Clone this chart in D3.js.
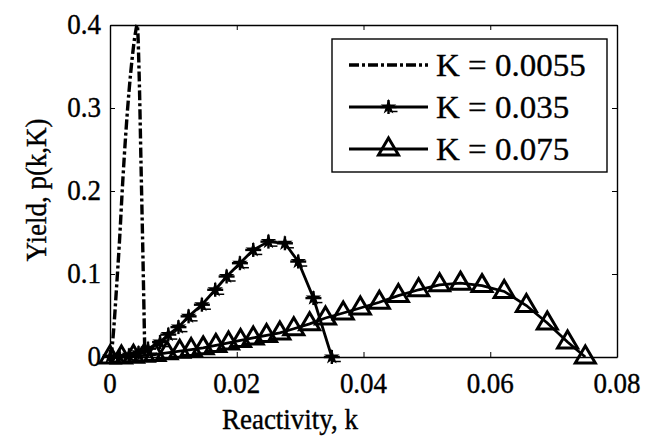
<!DOCTYPE html>
<html><head><meta charset="utf-8">
<script src="https://cdn.jsdelivr.net/npm/d3@7"></script>
<style>body{margin:0;background:#fff}svg{display:block}text{font-family:"Liberation Serif","Times New Roman",Times,"DejaVu Serif",serif;fill:#000;stroke:#000;stroke-width:0.35px}</style>
</head><body><svg id="c" width="649" height="438"></svg>
<script>
const xTicks = [0, 0.02, 0.04, 0.06, 0.08];
const yTicks = [0, 0.1, 0.2, 0.3, 0.4];
const xTickLabels = ["0", "0.02", "0.04", "0.06", "0.08"];
const yTickLabels = ["0", "0.1", "0.2", "0.3", "0.4"];
const seriesNames = ["K = 0.0055", "K = 0.035", "K = 0.075"];

const k1 = [0, 0.0003, 0.0006, 0.001, 0.0015, 0.002, 0.0025, 0.003, 0.0035, 0.004, 0.0043, 0.0046, 0.0049, 0.0052, 0.0055];
const p1 = [0, 0.01, 0.035, 0.08, 0.14, 0.21, 0.27, 0.32, 0.36, 0.39, 0.40, 0.34, 0.23, 0.12, 0];

const k2 = [0, 0.0015, 0.003, 0.0045, 0.006, 0.0079, 0.0092, 0.0108, 0.0124, 0.0145, 0.0166, 0.0184, 0.0205, 0.0226, 0.025, 0.0276, 0.0297, 0.0321, 0.035];
const p2 = [0, 0.0005, 0.002, 0.005, 0.010, 0.018, 0.027, 0.036, 0.049, 0.063, 0.081, 0.097, 0.113, 0.129, 0.139, 0.137, 0.115, 0.071, 0];

const k3 = [0, 0.0018, 0.0037, 0.0054, 0.0071, 0.009, 0.011, 0.0128, 0.0147, 0.0167, 0.0187, 0.0206, 0.0226, 0.0247, 0.0268, 0.029, 0.0315, 0.034, 0.0368, 0.0395, 0.0425, 0.0455, 0.0487, 0.052, 0.0553, 0.0587, 0.0622, 0.0657, 0.069, 0.0722, 0.075];
const p3 = [0, 0.000, 0.001, 0.002, 0.003, 0.005, 0.007, 0.009, 0.011, 0.014, 0.017, 0.020, 0.023, 0.026, 0.029, 0.034, 0.040, 0.047, 0.053, 0.059, 0.066, 0.074, 0.081, 0.087, 0.089, 0.086, 0.079, 0.062, 0.041, 0.018, 0];

const svg = d3.select("#c");
const L = 110, R = 617, T = 25, B = 357;
const x = d3.scaleLinear().domain([0, 0.08]).range([L, R]);
const y = d3.scaleLinear().domain([0, 0.4]).range([B, T]);
const FS = 27, SY = 1.13;

// axes box (ticks inward)
const gx = svg.append("g").attr("transform", `translate(0,${B})`)
  .call(d3.axisBottom(x).tickValues(xTicks).tickSizeInner(-5).tickSizeOuter(0).tickFormat(""));
const gy = svg.append("g").attr("transform", `translate(${L},0)`)
  .call(d3.axisLeft(y).tickValues(yTicks).tickSizeInner(-5).tickSizeOuter(0).tickFormat(""));
const gt = svg.append("g").attr("transform", `translate(0,${T})`)
  .call(d3.axisTop(x).tickValues(xTicks).tickSizeInner(-5).tickSizeOuter(0).tickFormat(""));
const gr = svg.append("g").attr("transform", `translate(${R},0)`)
  .call(d3.axisRight(y).tickValues(yTicks).tickSizeInner(-5).tickSizeOuter(0).tickFormat(""));
[gx, gy, gt, gr].forEach(g => {
  g.selectAll("path.domain").attr("stroke", "#000").attr("stroke-width", 1.4);
  g.selectAll(".tick line").attr("stroke", "#000").attr("stroke-width", 1);
});

function stext(g, tx, ty, s, anchor, fs, sy, rot) {
  return g.append("text").attr("transform", `translate(${tx},${ty})` + (rot ? ` rotate(${rot})` : "") + ` scale(1,${sy})`)
    .attr("text-anchor", anchor).attr("font-size", fs).text(s);
}
xTicks.forEach((v, i) => stext(svg, x(v), 393, xTickLabels[i], "middle", FS, SY));
yTicks.forEach((v, i) => stext(svg, 101, y(v) + 8.5, yTickLabels[i], "end", FS, SY));

stext(svg, 290, 429, "Reactivity, k", "middle", FS, SY);
stext(svg, 46, 190, "Yield, p(k,K)", "middle", FS, SY, -90);

const line = d3.line().x(d => x(d[0])).y(d => y(d[1]));
const d1 = k1.map((k, i) => [k, p1[i]]);
const d2 = k2.map((k, i) => [k, p2[i]]);
const d3d = k3.map((k, i) => [k, p3[i]]);

const plot = svg.append("g");
plot.append("path").datum(d1).attr("d", line.curve(d3.curveMonotoneX)).attr("fill", "none")
  .attr("stroke", "#000").attr("stroke-width", 3.4).attr("stroke-dasharray", "10,3,3,3");
line.curve(d3.curveLinear);
plot.append("path").datum(d2).attr("d", line).attr("fill", "none").attr("stroke", "#000").attr("stroke-width", 2.8);
plot.append("path").datum(d3d).attr("d", line).attr("fill", "none").attr("stroke", "#000").attr("stroke-width", 2.8);

function starMarker(g, cx, cy) {
  g.append("path").attr("d", d3.symbol(d3.symbolStar, 75)()).attr("transform", `translate(${cx},${cy})`).attr("fill", "#000");
  g.append("line").attr("x1", cx - 8).attr("x2", cx + 8).attr("y1", cy).attr("y2", cy).attr("stroke", "#000").attr("stroke-width", 2.4);
  g.append("line").attr("x1", cx + 1).attr("x2", cx + 9).attr("y1", cy + 4.5).attr("y2", cy + 4.5).attr("stroke", "#000").attr("stroke-width", 1.5);
  g.append("line").attr("x1", cx).attr("x2", cx).attr("y1", cy - 7).attr("y2", cy + 7).attr("stroke", "#000").attr("stroke-width", 2.4);
}
function triMarker(g, cx, cy) {
  g.append("path").attr("d", `M${cx},${cy - 11}L${cx + 10},${cy + 6}L${cx - 10},${cy + 6}Z`)
    .attr("fill", "none").attr("stroke", "#000").attr("stroke-width", 3).attr("stroke-linejoin", "miter");
}
d2.forEach(d => starMarker(plot, x(d[0]), y(d[1])));
d3d.forEach(d => triMarker(plot, x(d[0]), y(d[1])));

// legend
const lg = svg.append("g");
const lx = 332, ly = 39, lw = 275, lh = 133;
lg.append("rect").attr("x", lx).attr("y", ly).attr("width", lw).attr("height", lh)
  .attr("fill", "#fff").attr("stroke", "#000").attr("stroke-width", 1.4);
const rows = [65, 107, 149];
const lx1 = 349, lx2 = 428;
lg.append("line").attr("x1", lx1).attr("x2", lx2).attr("y1", rows[0]).attr("y2", rows[0])
  .attr("stroke", "#000").attr("stroke-width", 3.4).attr("stroke-dasharray", "10,3,3,3");
lg.append("line").attr("x1", lx1).attr("x2", lx2).attr("y1", rows[1]).attr("y2", rows[1])
  .attr("stroke", "#000").attr("stroke-width", 2.8);
starMarker(lg, (lx1 + lx2) / 2, rows[1]);
lg.append("line").attr("x1", lx1).attr("x2", lx2).attr("y1", rows[2]).attr("y2", rows[2])
  .attr("stroke", "#000").attr("stroke-width", 2.8);
triMarker(lg, (lx1 + lx2) / 2, rows[2]);
seriesNames.forEach((s, i) => stext(lg, 436, rows[i] + 10.5, s, "start", 33, 0.95));
</script></body></html>
